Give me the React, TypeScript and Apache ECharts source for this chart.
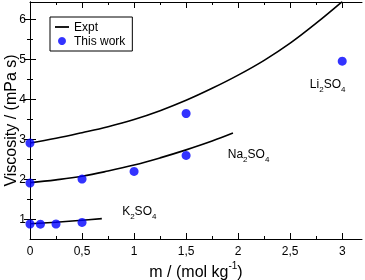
import React, { useEffect, useRef } from "react";
import * as echarts from "echarts";

// Experimental curves (m in mol/kg, viscosity in mPa s)
const liExptM = [0, 0.25, 0.5, 0.75, 1.0, 1.25, 1.5, 1.75, 2.0, 2.25, 2.5, 2.75, 3.0];
const liExptV = [2.9, 3.02, 3.16, 3.31, 3.49, 3.71, 3.97, 4.27, 4.6, 4.97, 5.4, 5.9, 6.44];
const naExptM = [0, 0.25, 0.5, 0.75, 1.0, 1.25, 1.5, 1.75, 1.95];
const naExptV = [1.91, 1.98, 2.07, 2.2, 2.35, 2.53, 2.73, 2.95, 3.15];
const kExptM = [0, 0.25, 0.5, 0.69];
const kExptV = [0.88, 0.92, 0.97, 1.01];

// This work (simulation points)
const liSimM = [0, 1.5, 3.0];
const liSimV = [2.9, 3.64, 4.95];
const naSimM = [0, 0.5, 1.0, 1.5];
const naSimV = [1.9, 2.0, 2.19, 2.59];
const kSimM = [0, 0.1, 0.25, 0.5];
const kSimV = [0.875, 0.87, 0.875, 0.915];

// Axis ticks
const xMajor = [0, 0.5, 1, 1.5, 2, 2.5, 3];
const xMinor = [0.25, 0.75, 1.25, 1.75, 2.25, 2.75];
const yMajor = [1, 2, 3, 4, 5, 6];
const yMinor = [1.5, 2.5, 3.5, 4.5, 5.5];

// Annotations anchored in data space
const annLi = { base: "Li", tail: "SO", m: 2.86, v: 4.33 };
const annNa = { base: "Na", tail: "SO", m: 2.1, v: 2.58 };
const annK = { base: "K", tail: "SO", m: 1.05, v: 1.16 };

const FONT = "Liberation Sans";

const pairs = (xs: number[], ys: number[]) => xs.map((x, i) => [x, ys[i]]);

export default function App() {
  const ref = useRef<HTMLDivElement>(null);
  useEffect(() => {
    if (!ref.current) return;
    const chart = echarts.init(ref.current, undefined, { renderer: "svg" });
    const X_MIN = 0, X_MAX = 3.19, Y_MIN = 0.5, Y_MAX = 6.43;
    const black = "#000";
    const xBase = { type: "value", min: X_MIN, max: X_MAX, splitLine: { show: false } };
    const yBase = { type: "value", min: Y_MIN, max: Y_MAX, splitLine: { show: false } };
    const fmt = (v: number) => String(v).replace(".", ",");
    const lineSeries = (xs: number[], ys: number[]) => ({
      type: "line",
      name: "Expt",
      data: pairs(xs, ys),
      smooth: 0.4,
      symbol: "none",
      showSymbol: false,
      lineStyle: { color: black, width: 1.6 },
      itemStyle: { color: black },
      z: 3,
    });
    const dotSeries = (xs: number[], ys: number[]) => ({
      type: "scatter",
      name: "This work",
      data: pairs(xs, ys),
      symbol: "circle",
      symbolSize: 9,
      itemStyle: { color: "#0000ff" },
      z: 4,
    });
    chart.setOption({
      animation: false,
      textStyle: { fontFamily: FONT },
      grid: { left: 30, right: 3, top: 2, bottom: 41, outerBoundsMode: "none", containLabel: false },
      legend: {
        orient: "vertical",
        left: 50,
        top: 17,
        padding: [4, 7, 4, 5],
        itemGap: 2,
        itemWidth: 14,
        itemHeight: 8,
        borderColor: black,
        borderWidth: 1,
        borderRadius: 0,
        backgroundColor: "#fff",
        textStyle: { fontFamily: FONT, fontSize: 12, color: black },
        data: [
          { name: "Expt", icon: "path://M0,0H14V1.8H0Z" },
          { name: "This work", icon: "circle" },
        ],
      },
      xAxis: [
        {
          ...xBase,
          position: "bottom",
          name: "{a|m / (mol kg}{s|-1}{a|)}",
          nameLocation: "middle",
          nameGap: 21,
          nameMoveOverlap: false,
          nameTextStyle: {
            rich: {
              a: { fontFamily: FONT, fontSize: 16, color: black, lineHeight: 19, verticalAlign: "bottom" },
              s: { fontFamily: FONT, fontSize: 10, color: black, lineHeight: 12, verticalAlign: "top" },
            },
          },
          axisLine: { show: true, lineStyle: { color: black, width: 1 } },
          axisTick: { show: true, inside: true, length: 6, customValues: xMajor, lineStyle: { color: black } },
          axisLabel: { customValues: xMajor, formatter: fmt, margin: 6, fontSize: 12, color: black, fontFamily: FONT },
        },
        {
          ...xBase,
          position: "bottom",
          axisLine: { show: false },
          axisTick: { show: true, inside: true, length: 3, customValues: xMinor, lineStyle: { color: black } },
          axisLabel: { show: false },
        },
        {
          ...xBase,
          position: "top",
          axisLine: { show: true, lineStyle: { color: black, width: 1 } },
          axisTick: { show: true, inside: true, length: 6, customValues: xMajor, lineStyle: { color: black } },
          axisLabel: { show: false },
        },
        {
          ...xBase,
          position: "top",
          axisLine: { show: false },
          axisTick: { show: true, inside: true, length: 3, customValues: xMinor, lineStyle: { color: black } },
          axisLabel: { show: false },
        },
      ],
      yAxis: [
        {
          ...yBase,
          position: "left",
          name: "Viscosity / (mPa s)",
          nameLocation: "middle",
          nameGap: 12,
          nameMoveOverlap: false,
          nameRotate: 90,
          nameTextStyle: { fontFamily: FONT, fontSize: 16, color: black },
          axisLine: { show: true, lineStyle: { color: black, width: 1 } },
          axisTick: { show: true, inside: true, length: 6, customValues: yMajor, lineStyle: { color: black } },
          axisLabel: { customValues: yMajor, margin: 4, fontSize: 12, color: black, fontFamily: FONT },
        },
        {
          ...yBase,
          position: "left",
          axisLine: { show: false },
          axisTick: { show: true, inside: true, length: 3, customValues: yMinor, lineStyle: { color: black } },
          axisLabel: { show: false },
        },
        {
          ...yBase,
          position: "right",
          axisLine: { show: true, lineStyle: { color: black, width: 1 } },
          axisTick: { show: true, inside: true, length: 6, customValues: yMajor, lineStyle: { color: black } },
          axisLabel: { show: false },
        },
        {
          ...yBase,
          position: "right",
          axisLine: { show: false },
          axisTick: { show: true, inside: true, length: 3, customValues: yMinor, lineStyle: { color: black } },
          axisLabel: { show: false },
        },
      ],
      series: [
        lineSeries(liExptM, liExptV),
        lineSeries(naExptM, naExptV),
        lineSeries(kExptM, kExptV),
        dotSeries(liSimM, liSimV),
        dotSeries(naSimM, naSimV),
        dotSeries(kSimM, kSimV),
      ],
    });

    const rich = {
      a: { fontFamily: FONT, fontSize: 12, color: black, lineHeight: 16, verticalAlign: "top" },
      s: { fontFamily: FONT, fontSize: 8, color: black, lineHeight: 8, verticalAlign: "bottom" },
    };
    const ann = (a: { base: string; tail: string; m: number; v: number }) => {
      const [px, py] = chart.convertToPixel({ xAxisIndex: 0, yAxisIndex: 0 }, [a.m, a.v]) as number[];
      return {
        type: "text",
        x: px,
        y: py,
        z: 10,
        style: {
          text: `{a|${a.base}}{s|2}{a|${a.tail}}{s|4}`,
          rich,
          fill: black,
          align: "center",
          verticalAlign: "middle",
        },
      };
    };
    chart.setOption({ graphic: [ann(annLi), ann(annNa), ann(annK)] });

    return () => chart.dispose();
  }, []);
  return (
    <div
      ref={ref}
      style={{ position: "fixed", left: 0, top: 0, width: 365, height: 280 }}
    />
  );
}
